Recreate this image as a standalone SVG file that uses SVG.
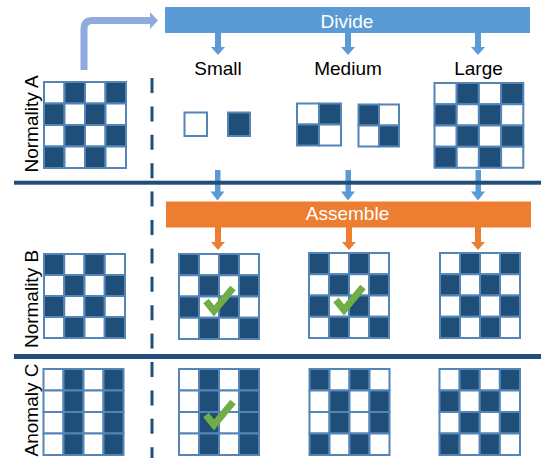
<svg xmlns="http://www.w3.org/2000/svg" xmlns:xlink="http://www.w3.org/1999/xlink" width="541" height="458" viewBox="0 0 541 458">
<style>
text{font-family:"Liberation Sans",Arial,sans-serif;font-size:19px}
.lbl{fill:#000;text-anchor:middle}
.bar{fill:#fff;text-anchor:middle}
.d{fill:#1f4e79;stroke:#5585b6;stroke-width:2;vector-effect:non-scaling-stroke}
.w{fill:#fff;stroke:#5585b6;stroke-width:2;vector-effect:non-scaling-stroke}
.blue{fill:#5b9bd5}
.orange{fill:#ed7d31}
.sep{fill:#1f4e79}
.chk{fill:none;stroke:#70ad47;stroke-width:7;stroke-linejoin:miter}
</style>
<defs>
<g id="P1">
<rect class="w" x="0" y="0" width="20" height="21"/><rect class="d" x="20" y="0" width="20" height="21"/><rect class="w" x="40" y="0" width="20" height="21"/><rect class="d" x="60" y="0" width="20" height="21"/>
<rect class="d" x="0" y="21" width="20" height="21"/><rect class="w" x="20" y="21" width="20" height="21"/><rect class="d" x="40" y="21" width="20" height="21"/><rect class="w" x="60" y="21" width="20" height="21"/>
<rect class="w" x="0" y="42" width="20" height="21"/><rect class="d" x="20" y="42" width="20" height="21"/><rect class="w" x="40" y="42" width="20" height="21"/><rect class="d" x="60" y="42" width="20" height="21"/>
<rect class="d" x="0" y="63" width="20" height="21"/><rect class="w" x="20" y="63" width="20" height="21"/><rect class="d" x="40" y="63" width="20" height="21"/><rect class="w" x="60" y="63" width="20" height="21"/>
</g>
<g id="P2">
<rect class="d" x="0" y="0" width="20" height="21"/><rect class="w" x="20" y="0" width="20" height="21"/><rect class="d" x="40" y="0" width="20" height="21"/><rect class="w" x="60" y="0" width="20" height="21"/>
<rect class="w" x="0" y="21" width="20" height="21"/><rect class="d" x="20" y="21" width="20" height="21"/><rect class="w" x="40" y="21" width="20" height="21"/><rect class="d" x="60" y="21" width="20" height="21"/>
<rect class="d" x="0" y="42" width="20" height="21"/><rect class="w" x="20" y="42" width="20" height="21"/><rect class="d" x="40" y="42" width="20" height="21"/><rect class="w" x="60" y="42" width="20" height="21"/>
<rect class="w" x="0" y="63" width="20" height="21"/><rect class="d" x="20" y="63" width="20" height="21"/><rect class="w" x="40" y="63" width="20" height="21"/><rect class="d" x="60" y="63" width="20" height="21"/>
</g>
<g id="P3">
<rect class="w" x="0" y="0" width="20" height="21"/><rect class="d" x="20" y="0" width="20" height="21"/><rect class="w" x="40" y="0" width="20" height="21"/><rect class="d" x="60" y="0" width="20" height="21"/>
<rect class="w" x="0" y="21" width="20" height="21"/><rect class="d" x="20" y="21" width="20" height="21"/><rect class="w" x="40" y="21" width="20" height="21"/><rect class="d" x="60" y="21" width="20" height="21"/>
<rect class="w" x="0" y="42" width="20" height="21"/><rect class="d" x="20" y="42" width="20" height="21"/><rect class="w" x="40" y="42" width="20" height="21"/><rect class="d" x="60" y="42" width="20" height="21"/>
<rect class="w" x="0" y="63" width="20" height="21"/><rect class="d" x="20" y="63" width="20" height="21"/><rect class="w" x="40" y="63" width="20" height="21"/><rect class="d" x="60" y="63" width="20" height="21"/>
</g>
<g id="P4">
<rect class="d" x="0" y="0" width="20" height="21"/><rect class="w" x="20" y="0" width="20" height="21"/><rect class="d" x="40" y="0" width="20" height="21"/><rect class="w" x="60" y="0" width="20" height="21"/>
<rect class="w" x="0" y="21" width="20" height="21"/><rect class="d" x="20" y="21" width="20" height="21"/><rect class="w" x="40" y="21" width="20" height="21"/><rect class="d" x="60" y="21" width="20" height="21"/>
<rect class="w" x="0" y="42" width="20" height="21"/><rect class="d" x="20" y="42" width="20" height="21"/><rect class="w" x="40" y="42" width="20" height="21"/><rect class="d" x="60" y="42" width="20" height="21"/>
<rect class="d" x="0" y="63" width="20" height="21"/><rect class="w" x="20" y="63" width="20" height="21"/><rect class="d" x="40" y="63" width="20" height="21"/><rect class="w" x="60" y="63" width="20" height="21"/>
</g>
</defs>

<!-- row labels -->
<text class="lbl" transform="translate(38,124) rotate(-90)">Normality A</text>
<text class="lbl" transform="translate(38,299) rotate(-90)">Normality B</text>
<text class="lbl" transform="translate(38,410) rotate(-90)">Anomaly C</text>

<!-- connectors -->
<g id="connectors">
<path d="M84,70 V29 Q84,20.5 92.5,20.5 H151" fill="none" stroke="#8faadc" stroke-width="7"/>
<polygon points="150,12 158,20.5 150,29" fill="#8faadc"/>
<rect class="blue" x="215" y="33" width="6" height="14"/><polygon class="blue" points="211,47 225,47 218,55"/>
<rect class="blue" x="345" y="33" width="6" height="14"/><polygon class="blue" points="341,47 355,47 348,55"/>
<rect class="blue" x="475" y="33" width="6" height="14"/><polygon class="blue" points="471,47 485,47 478,55"/>
<rect class="blue" x="215" y="170" width="5.5" height="22"/><polygon class="blue" points="210.5,191.5 224.5,191.5 217.5,200.5"/>
<rect class="blue" x="345.5" y="170" width="5.5" height="22"/><polygon class="blue" points="341,191.5 355,191.5 348,200.5"/>
<rect class="blue" x="475.5" y="170" width="5.5" height="22"/><polygon class="blue" points="471,191.5 485,191.5 478,200.5"/>
<rect class="orange" x="215" y="227" width="6" height="15"/><polygon class="orange" points="211,242 225,242 218,250"/>
<rect class="orange" x="346" y="227" width="6" height="15"/><polygon class="orange" points="342,242 356,242 349,250"/>
<rect class="orange" x="475" y="227" width="6" height="15"/><polygon class="orange" points="471,242 485,242 478,250"/>
</g>

<!-- separators -->
<line x1="152" y1="78" x2="152" y2="458" stroke="#1f4e79" stroke-width="3" stroke-dasharray="15 13.4"/>
<rect class="sep" x="14" y="180.7" width="527" height="4"/>
<rect class="sep" x="14" y="354" width="527" height="5"/>

<!-- bars -->
<g id="divide">
<rect class="blue" x="165" y="7" width="365" height="26"/>
<text class="bar" x="347" y="28">Divide</text>
</g>
<g id="assemble">
<rect class="orange" x="166" y="201.5" width="365" height="26"/>
<text class="bar" x="347.5" y="220">Assemble</text>
</g>

<text class="lbl" x="218" y="74.5">Small</text>
<text class="lbl" x="348" y="74.5">Medium</text>
<text class="lbl" x="478.5" y="74.5">Large</text>

<!-- grids -->
<g id="gridA"><use xlink:href="#P1" transform="translate(44,82) scale(1.025,1.024)"/></g>
<g id="small-pieces">
<rect class="w" x="184.5" y="112.5" width="22.5" height="23.5"/>
<rect class="d" x="228" y="112.5" width="22" height="23.5"/>
</g>
<g id="medium-pieces">
<rect class="w" x="297" y="103.5" width="22" height="21"/><rect class="d" x="319" y="103.5" width="22" height="21"/>
<rect class="d" x="297" y="124.5" width="22" height="21"/><rect class="w" x="319" y="124.5" width="22" height="21"/>
<rect class="d" x="358.5" y="104.5" width="20.5" height="21"/><rect class="w" x="379" y="104.5" width="20" height="21"/>
<rect class="w" x="358.5" y="125.5" width="20.5" height="21"/><rect class="d" x="379" y="125.5" width="20" height="21"/>
</g>
<g id="large-piece"><use xlink:href="#P1" transform="translate(434.5,83) scale(1.11,1.01)"/></g>

<g id="gridB"><use xlink:href="#P2" transform="translate(44,254) scale(1.0125,1)"/></g>
<g id="B-small"><use xlink:href="#P2" transform="translate(179,254) scale(1,1.012)"/></g>
<g id="B-medium"><use xlink:href="#P2" transform="translate(309,253) scale(1,1.012)"/></g>
<g id="B-large"><use xlink:href="#P1" transform="translate(440,253) scale(1,1.012)"/></g>

<g id="gridC"><use xlink:href="#P3" transform="translate(43.5,369) scale(1,1.024)"/></g>
<g id="C-small"><use xlink:href="#P3" transform="translate(179,369) scale(1,1.024)"/></g>
<g id="C-medium"><use xlink:href="#P4" transform="translate(309.5,369) scale(1.0,1.024)"/></g>
<g id="C-large"><use xlink:href="#P1" transform="translate(439.5,369) scale(1.006,1.024)"/></g>

<!-- checks -->
<polyline class="chk" points="206,301 214,311 233,288"/>
<polyline class="chk" points="336,300 344,310 363,287"/>
<polyline class="chk" points="206,415 214,425 233,402"/>
</svg>
